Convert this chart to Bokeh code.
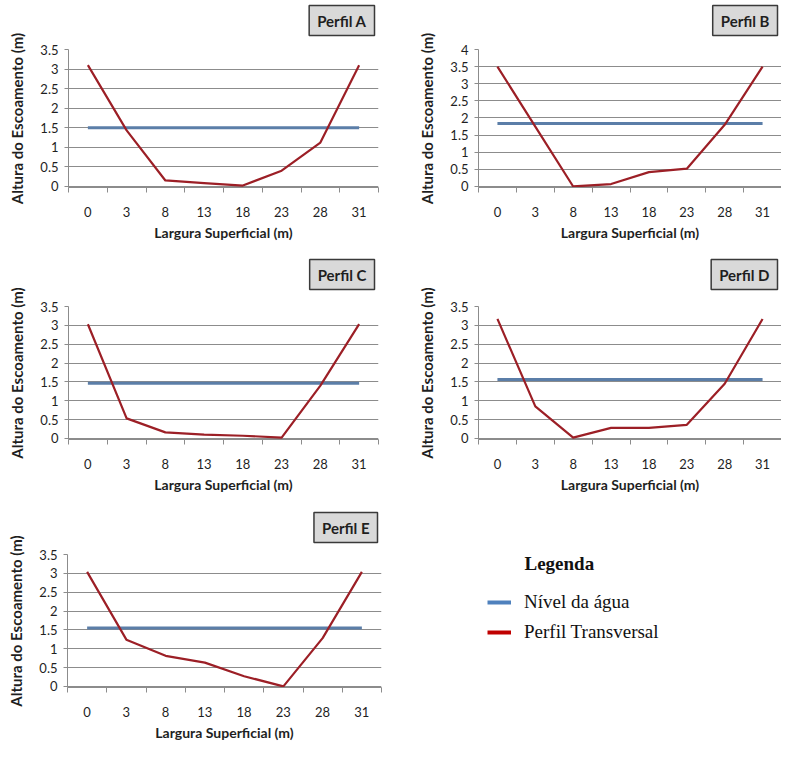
from bokeh.plotting import figure
from bokeh.models import Range1d, FixedTicker, Legend, LegendItem, Label, Title
from bokeh.layouts import column, row
from bokeh.embed import file_html
from bokeh.resources import INLINE

# ---------------- data ----------------
categories = ["0", "3", "8", "13", "18", "23", "28", "31"]

perfil_a = [3.1, 1.43, 0.15, 0.08, 0.02, 0.4, 1.12, 3.1]
nivel_a = 1.5
perfil_b = [3.5, 1.75, 0.0, 0.07, 0.42, 0.52, 1.8, 3.5]
nivel_b = 1.84
perfil_c = [3.03, 0.53, 0.16, 0.1, 0.07, 0.02, 1.4, 3.03]
nivel_c = 1.46
perfil_d = [3.17, 0.85, 0.02, 0.28, 0.28, 0.36, 1.45, 3.17]
nivel_d = 1.56
perfil_e = [3.04, 1.24, 0.81, 0.63, 0.27, 0.0, 1.28, 3.04]
nivel_e = 1.55

y_ticks_35 = [0, 0.5, 1, 1.5, 2, 2.5, 3, 3.5]
y_labels_35 = ["0", "0.5", "1", "1.5", "2", "2.5", "3", "3.5"]
y_ticks_4 = [0, 0.5, 1, 1.5, 2, 2.5, 3, 3.5, 4]
y_labels_4 = ["0", "0.5", "1", "1.5", "2", "2.5", "3", "3.5", "4"]

titles = ["Perfil A", "Perfil B", "Perfil C", "Perfil D", "Perfil E"]
x_title = "Largura Superficial (m)"
y_title = "Altura do Escoamento (m)"
legend_title = "Legenda"
legend_labels = ["Nível da água", "Perfil Transversal"]

# ---------------- style ----------------
FONT = "Lato"
TXT = "#1f1f1f"
GRID = "#8c8c8c"
RED = "#9c1f26"
BLUE = "#5b7ea8"


def make_panel(name, values, nivel, y_ticks, y_labels, width, height,
               b_left, b_right, b_top, b_bottom, gap):
    xs = list(range(len(categories)))
    bounds = [i - 0.5 for i in range(len(categories) + 1)]
    p = figure(width=width, height=height, output_backend="svg",
               toolbar_location=None, title=None,
               x_range=Range1d(-0.5, len(categories) - 0.5),
               y_range=Range1d(-0.03, y_ticks[-1]),
               min_border_left=b_left, min_border_right=b_right,
               min_border_top=b_top, min_border_bottom=b_bottom)
    p.outline_line_color = None
    p.background_fill_color = "white"
    p.border_fill_color = "white"

    # a thin spacer panel between the frame and the boxed title
    p.add_layout(Title(text=" ", text_font_size="1px", standoff=gap), "above")
    t = Title(text=name, align="right", text_font=FONT, text_font_size="15px",
              text_font_style="bold", text_color=TXT,
              background_fill_color="#d9d9d9", border_line_color="#3a3a3a",
              border_line_width=1.5, padding=(8, 6), standoff=0, offset=4)
    p.add_layout(t, "above")

    xa = p.xaxis[0]
    xa.ticker = FixedTicker(ticks=xs, minor_ticks=bounds)
    xa.major_label_overrides = {i: c for i, c in enumerate(categories)}
    xa.major_tick_out = 0
    xa.major_tick_in = 0
    xa.minor_tick_out = 5
    xa.minor_tick_in = 0
    xa.minor_tick_line_color = GRID
    xa.axis_line_color = GRID
    xa.major_label_standoff = 14
    xa.major_label_text_font = FONT
    xa.major_label_text_font_size = "13px"
    xa.major_label_text_color = TXT
    xa.axis_label = x_title
    xa.axis_label_text_font = FONT
    xa.axis_label_text_font_size = "14px"
    xa.axis_label_text_font_style = "bold"
    xa.axis_label_text_color = TXT
    xa.axis_label_standoff = 4

    ya = p.yaxis[0]
    yt = FixedTicker(ticks=y_ticks, minor_ticks=[])
    ya.ticker = yt
    ya.major_label_overrides = {v: s for v, s in zip(y_ticks, y_labels)}
    ya.major_tick_out = 4
    ya.major_tick_in = 0
    ya.major_tick_line_color = GRID
    ya.minor_tick_out = 0
    ya.minor_tick_in = 0
    ya.axis_line_color = GRID
    ya.major_label_standoff = 6
    ya.major_label_text_font = FONT
    ya.major_label_text_font_size = "13px"
    ya.major_label_text_color = TXT
    ya.axis_label = y_title
    ya.axis_label_text_font = FONT
    ya.axis_label_text_font_size = "15px"
    ya.axis_label_text_font_style = "bold"
    ya.axis_label_text_color = TXT
    ya.axis_label_standoff = 11

    p.xgrid.visible = False
    p.ygrid.ticker = yt
    p.ygrid.grid_line_color = GRID
    p.ygrid.grid_line_width = 1

    p.line([xs[0], xs[-1]], [nivel, nivel], line_color=BLUE, line_width=3)
    p.line(xs, values, line_color=RED, line_width=2.2, line_join="round")
    return p


LW, RW = 392, 389
H1, H2, H3 = 248, 247, 248
pa = make_panel(titles[0], perfil_a, nivel_a, y_ticks_35, y_labels_35, LW, H1, 68, 14, 49, 61, 11)
pb = make_panel(titles[1], perfil_b, nivel_b, y_ticks_4, y_labels_4, RW, H1, 86, 0, 49, 61, 11)
pc = make_panel(titles[2], perfil_c, nivel_c, y_ticks_35, y_labels_35, LW, H2, 68, 14, 58, 50, 14)
pd_ = make_panel(titles[3], perfil_d, nivel_d, y_ticks_35, y_labels_35, RW, H2, 86, 0, 58, 50, 14)
pe = make_panel(titles[4], perfil_e, nivel_e, y_ticks_35, y_labels_35, LW, H3, 67, 11, 59, 52, 9)

# legend panel (borders match panel E so that the row's frames line up)
pl = figure(width=RW, height=H3, output_backend="svg", toolbar_location=None,
            title=None,
            x_range=Range1d(0, 1), y_range=Range1d(0, 1),
            x_axis_location=None, y_axis_location=None,
            min_border_left=86, min_border_top=59, min_border_right=0,
            min_border_bottom=52)
pl.outline_line_color = None
pl.xgrid.visible = False
pl.ygrid.visible = False

# proxy renderers for the legend keys (their data lie outside the visible range)
r_blue = pl.line(x=[2, 3], y=[2, 3], line_color="#4f81bd", line_width=4)
r_red = pl.line(x=[2, 3], y=[2, 3], line_color="#c00000", line_width=4)
leg = Legend(items=[LegendItem(label=legend_labels[0], renderers=[r_blue]),
                    LegendItem(label=legend_labels[1], renderers=[r_red])],
             location=(9, 44), padding=0, margin=0, spacing=8,
             glyph_width=24, glyph_height=20, label_height=20,
             label_standoff=13, label_text_font="Liberation Serif",
             label_text_font_size="19px", label_text_color="#111111",
             border_line_color=None, background_fill_alpha=0)
pl.add_layout(leg, "center")
pl.add_layout(Label(x=46, y=124, x_units="screen", y_units="screen",
                    text=legend_title, text_font="Liberation Serif",
                    text_font_size="19px", text_font_style="bold",
                    text_baseline="middle", text_color="#111111"))

layout = column(row(pa, pb), row(pc, pd_), row(pe, pl))
open("out.html", "w").write(file_html(layout, INLINE))
